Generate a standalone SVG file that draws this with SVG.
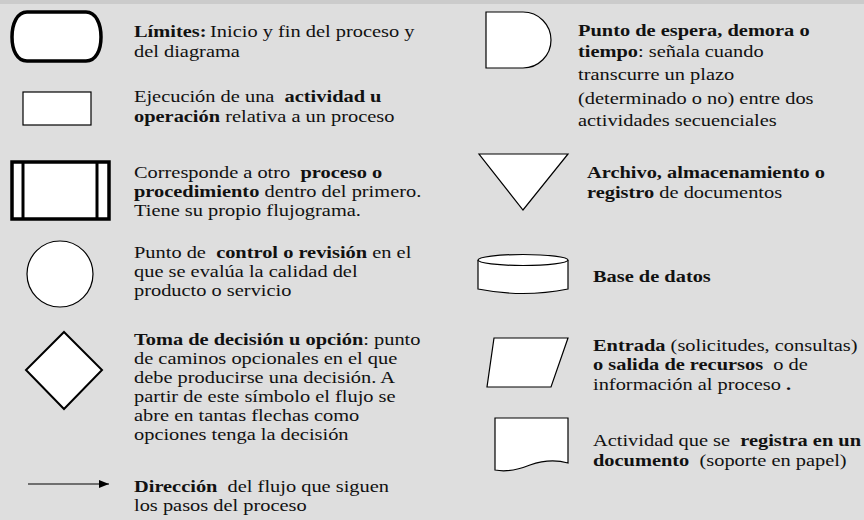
<svg xmlns="http://www.w3.org/2000/svg" width="864" height="520" viewBox="0 0 864 520">
<style>
text { font-family: "Liberation Serif", "Times New Roman", serif; font-size: 17px; fill: #111; white-space: pre; }
.b { font-weight: bold; }
.thick { fill: #fff; stroke: #000; stroke-width: 3.5; }
.thin { fill: #fff; stroke: #000; stroke-width: 1.2; }
.mid { fill: #fff; stroke: #000; stroke-width: 2; }
</style>
<defs>
<marker id="arr" viewBox="0 0 10 8" refX="10" refY="4" markerWidth="10" markerHeight="8" markerUnits="userSpaceOnUse" orient="auto">
<path d="M0,0 L10,4 L0,8 Z" fill="#000"/>
</marker>
</defs>
<rect x="0" y="0" width="864" height="520" fill="#dedede"/>
<rect x="0" y="0" width="864" height="4" fill="#cbcbcb"/>

<g id="limites">
<path class="thick" d="M27,12 H86 C96,12 101,24 101,37 C101,50 96,61 86,61 H27 C17,61 12,50 12,37 C12,24 17,12 27,12 Z"/>
<g transform="translate(134,0) scale(1.2,1)">
<text x="0" y="37"><tspan class="b">Límites:</tspan><tspan dx="3">Inicio y fin del proceso y</tspan></text>
<text x="0" y="57">del diagrama</text>
</g>
</g>

<g id="actividad">
<rect class="thin" x="23" y="92" width="68" height="33"/>
<g transform="translate(134,0) scale(1.2,1)">
<text x="0" y="102">Ejecución de una  <tspan class="b">actividad u</tspan></text>
<text x="0" y="122"><tspan class="b">operación</tspan> relativa a un proceso</text>
</g>
</g>

<g id="proceso">
<rect class="thick" x="12" y="162" width="97" height="57"/>
<line x1="23" y1="162" x2="23" y2="219" stroke="#000" stroke-width="3"/>
<line x1="97" y1="162" x2="97" y2="219" stroke="#000" stroke-width="3"/>
<g transform="translate(134,0) scale(1.2,1)">
<text x="0" y="178">Corresponde a otro  <tspan class="b">proceso o</tspan></text>
<text x="0" y="197"><tspan class="b">procedimiento</tspan> dentro del primero.</text>
<text x="0" y="216">Tiene su propio flujograma.</text>
</g>
</g>

<g id="control">
<circle class="thin" cx="60" cy="274" r="33"/>
<g transform="translate(134,0) scale(1.2,1)">
<text x="0" y="258">Punto de  <tspan class="b">control o revisión</tspan> en el</text>
<text x="0" y="277">que se evalúa la calidad del</text>
<text x="0" y="296">producto o servicio</text>
</g>
</g>

<g id="decision">
<polygon class="mid" points="64,332 102,370 64,409 26,370"/>
<g transform="translate(134,0) scale(1.2,1)">
<text x="0" y="345"><tspan class="b">Toma de decisión u opción</tspan>: punto</text>
<text x="0" y="364">de caminos opcionales en el que</text>
<text x="0" y="383">debe producirse una decisión. A</text>
<text x="0" y="402">partir de este símbolo el flujo se</text>
<text x="0" y="421">abre en tantas flechas como</text>
<text x="0" y="440">opciones tenga la decisión</text>
</g>
</g>

<g id="direccion">
<g transform="translate(134,0) scale(1.2,1)">
<text x="0" y="492"><tspan class="b">Dirección</tspan>  del flujo que siguen</text>
<text x="0" y="511">los pasos del proceso</text>
</g>
</g>

<g id="espera">
<path class="thin" d="M486,12 H523 A28,28 0 0 1 523,68 H486 Z"/>
<g transform="translate(578,0) scale(1.2,1)">
<text x="0" y="36"><tspan class="b">Punto de espera, demora o</tspan></text>
<text x="0" y="57"><tspan class="b">tiempo</tspan>: señala cuando</text>
<text x="0" y="80">transcurre un plazo</text>
<text x="0" y="104">(determinado o no) entre dos</text>
<text x="0" y="126">actividades secuenciales</text>
</g>
</g>

<g id="archivo">
<polygon class="thin" points="479,154 568,154 523,210"/>
<g transform="translate(587,0) scale(1.2,1)">
<text x="0" y="178"><tspan class="b">Archivo, almacenamiento o</tspan></text>
<text x="0" y="198"><tspan class="b">registro</tspan> de documentos</text>
</g>
</g>

<g id="basedatos">
<path class="thin" d="M478,260 V289 Q523,298 568,289 V260"/>
<ellipse class="thin" cx="523" cy="260" rx="45" ry="5.5"/>
<g transform="translate(593,0) scale(1.2,1)">
<text x="0" y="282"><tspan class="b">Base de datos</tspan></text>
</g>
</g>

<g id="entrada">
<polygon class="thin" points="494,338 568,338 551,387 487,387"/>
<g transform="translate(593,0) scale(1.2,1)">
<text x="0" y="351"><tspan class="b">Entrada</tspan> (solicitudes, consultas)</text>
<text x="0" y="370"><tspan class="b">o salida de recursos</tspan>  o de</text>
<text x="0" y="390">información al proceso<tspan class="b"> .</tspan></text>
</g>
</g>

<g id="documento">
<path class="thin" d="M495,418 H568 V463 Q550,458 530,465 Q510,473 495,470 Z"/>
<g transform="translate(593,0) scale(1.2,1)">
<text x="0" y="446">Actividad que se  <tspan class="b">registra en un</tspan></text>
<text x="0" y="466"><tspan class="b">documento</tspan>  (soporte en papel)</text>
</g>
</g>

<g id="connectors">
<line x1="28" y1="484" x2="109" y2="484" stroke="#000" stroke-width="1.2" marker-end="url(#arr)"/>
</g>
</svg>
